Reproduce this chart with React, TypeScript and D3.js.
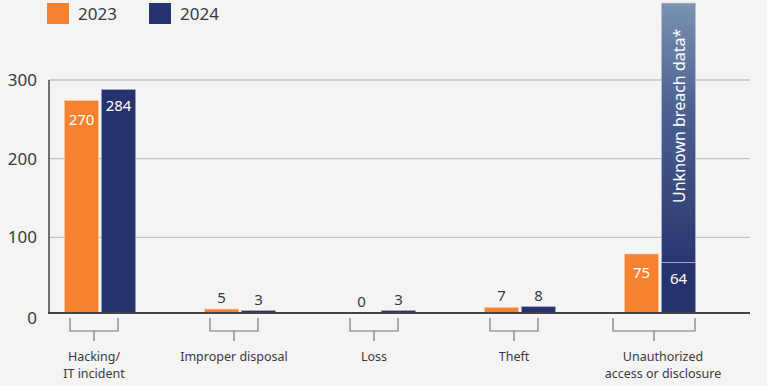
import React from 'react';
import * as d3 from 'd3';

const categories = ['Hacking/\nIT incident', 'Improper disposal', 'Loss', 'Theft', 'Unauthorized\naccess or disclosure'];
const values2023 = [270, 5, 0, 7, 75];
const values2024 = [284, 3, 3, 8, 64];
const unknownBreach = [0, 0, 0, 0, 330];
const yTicks = [0, 100, 200, 300];
const seriesNames = ['2023', '2024'];

const W = 767;
const H = 386;
const ORANGE = '#f7812f';
const NAVY = '#27336e';
const FONT = '"Noto Sans", "Open Sans", sans-serif';

export default function App() {
  const x = d3.scaleBand<number>().domain(d3.range(categories.length)).range([30, 730]);
  const y = d3.scaleLinear().domain([0, 300]).range([316, 80]);
  const base = 313;
  // bars grow up from the drawn baseline
  const top = (v: number) => base - (y(0) - y(v));
  const barW = 34;
  const gap = 3;

  return (
    <svg width={W} height={H} style={{ display: 'block', position: 'absolute', left: 0, top: 0, background: '#f4f4f4' }} fontFamily={FONT}>
      <defs>
        <linearGradient id="unk" x1="0" y1="0" x2="0" y2="1">
          <stop offset="0" stopColor="#7a93b0" />
          <stop offset="0.4" stopColor="#4d6193" />
          <stop offset="1" stopColor="#2a3670" />
        </linearGradient>
      </defs>
      <rect width={W} height={H} fill="#f4f4f4" />

      {/* legend */}
      {seriesNames.map((s, i) => (
        <g key={s} transform={`translate(${47 + i * 102},3)`}>
          <rect width={22} height={21} fill={i === 0 ? ORANGE : NAVY} />
          <text x={31} y={17} fontSize={17} fill="#3a3a3a">{s}</text>
        </g>
      ))}

      {/* grid */}
      {yTicks.map(t => (
        <g key={t}>
          {t > 0 && <line x1={49} x2={750} y1={y(t)} y2={y(t)} stroke="#bfc2c8" strokeWidth={1.3} />}
          <text x={37} y={t === 0 ? base + 11 : y(t) + 6} textAnchor="end" fontSize={17} fill="#3a3a3a">{t}</text>
        </g>
      ))}

      {/* bars */}
      {categories.map((c, i) => {
        const cx = x(i)! + x.bandwidth() / 2;
        const x1 = cx - gap / 2 - barW;
        const x2 = cx + gap / 2;
        const v1 = values2023[i];
        const v2 = values2024[i];
        const big1 = v1 > 50;
        const big2 = v2 > 50;
        const u = unknownBreach[i];
        const top1 = top(v1);
        const top2 = top(v2);
        return (
          <g key={i}>
            {v1 > 0 && <rect x={x1} y={top1} width={barW} height={base - top1} fill={ORANGE} stroke="#fbc9a4" strokeWidth={0.6} />}
            {u > 0 && (
              <>
                <rect x={x2} y={top(v2 + u)} width={barW} height={top2 - top(v2 + u)} fill="url(#unk)" stroke="#b8c2d6" strokeWidth={0.6} />
                <line x1={x2} x2={x2 + barW} y1={top2} y2={top2} stroke="#fff" strokeWidth={1.5} />
                <text transform={`translate(${x2 + barW / 2 + 6},${(top(v2 + u) + top2) / 2 - 17}) rotate(-90)`} textAnchor="middle" fontSize={16} fill="#fff">Unknown breach data*</text>
              </>
            )}
            {v2 > 0 && <rect x={x2} y={top2} width={barW} height={base - top2} fill={NAVY} stroke="#9aa3c2" strokeWidth={0.6} />}
            <text x={x1 + barW / 2} y={big1 ? top1 + 24 : top1 - 6} textAnchor="middle" fontSize={15} fill={big1 ? '#fff' : '#3a3a3a'}>{v1}</text>
            <text x={x2 + barW / 2} y={big2 ? top2 + 21 : top2 - 6} textAnchor="middle" fontSize={15} fill={big2 ? '#fff' : '#3a3a3a'}>{v2}</text>
          </g>
        );
      })}

      {/* axes */}
      <line x1={49} x2={49} y1={y(300)} y2={base + 1} stroke="#444" strokeWidth={1.5} />
      <line x1={48} x2={750} y1={base} y2={base} stroke="#444" strokeWidth={1.8} />

      {/* brackets + labels */}
      {categories.map((c, i) => {
        const cx = x(i)! + x.bandwidth() / 2 - 6;
        const half = i === 4 ? 41 : 24;
        const lines = c.split('\n');
        return (
          <g key={c}>
            <path d={`M${cx - half},318V331H${cx + half}V318M${cx},331V341`} fill="none" stroke="#777" strokeWidth={1.2} />
            {lines.map((l, j) => (
              <text key={j} x={i === 4 ? cx + 9 : cx} y={361 + j * 17} textAnchor="middle" fontSize={12.5} fill="#3a3a3a">{l}</text>
            ))}
          </g>
        );
      })}
    </svg>
  );
}
